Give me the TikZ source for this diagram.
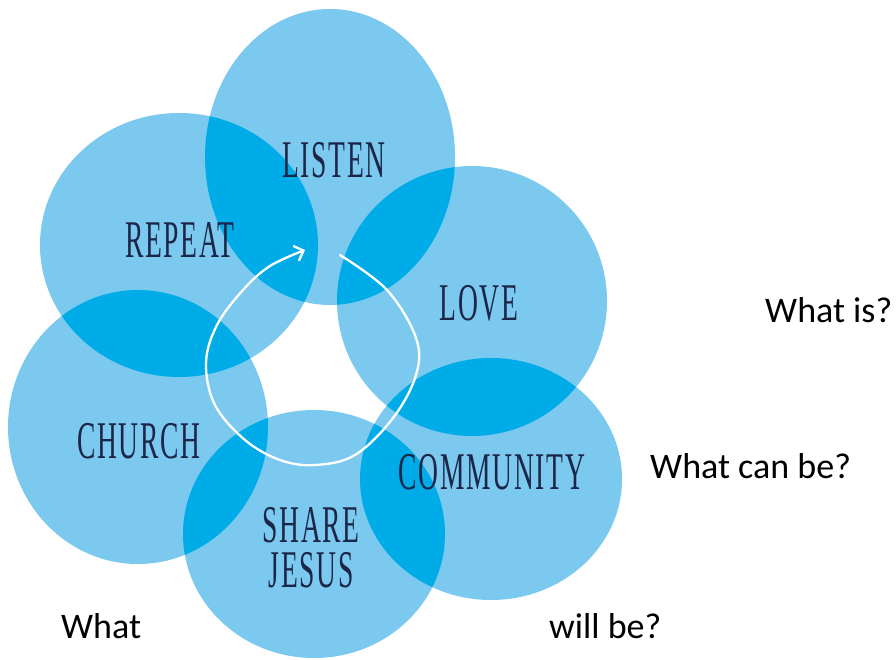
\documentclass[tikz,border=0pt]{standalone}
\usepackage{fontspec}
\setmainfont{Liberation Serif}
\newfontfamily\qfont{Carlito}
\newfontfamily\capfont[LetterSpace=6]{Liberation Serif}
\usetikzlibrary{arrows.meta}
\definecolor{blobLight}{RGB}{124,201,240}
\definecolor{blobDark}{RGB}{0,172,232}
\definecolor{labelNavy}{RGB}{28,38,72}
\newcommand\pListen{(330,157) ellipse [x radius=125, y radius=148]}
\newcommand\pRepeat{(179,245) ellipse [x radius=139, y radius=132]}
\newcommand\pLove{(472,301) ellipse [x radius=135, y radius=135]}
\newcommand\pCommunity{(491,479) ellipse [x radius=131, y radius=121]}
\newcommand\pShare{(314,534) ellipse [x radius=131, y radius=124]}
\newcommand\pChurch{(138,427) ellipse [x radius=130, y radius=137]}
\newcommand\lensfill[2]{\begin{scope}\clip #1;\fill[blobDark] #2;\end{scope}}
\newcommand\capword[1]{\scalebox{0.52}[1]{\capfont\fontsize{53}{53}\selectfont #1}}
\tikzset{
  blobtext/.style={anchor=base, inner sep=0pt, text=labelNavy},
  qtext/.style={anchor=base west, inner sep=0pt, font=\qfont\fontsize{36}{36}\selectfont, text=black},
  looparrow/.style={draw=white, line width=2.3pt, line cap=round, line join=round,
    -{Straight Barb[length=8pt,width=16pt,line width=2.3pt]}}
}
\begin{document}
\begin{tikzpicture}[x=1pt,y=-1pt]
\useasboundingbox[fill=white] (0,0) rectangle (896,660);
% blobs
\fill[blobLight] \pListen;
\fill[blobLight] \pRepeat;
\fill[blobLight] \pLove;
\fill[blobLight] \pCommunity;
\fill[blobLight] \pShare;
\fill[blobLight] \pChurch;
% overlaps
\lensfill{\pListen}{\pRepeat}
\lensfill{\pListen}{\pLove}
\lensfill{\pLove}{\pCommunity}
\lensfill{\pCommunity}{\pShare}
\lensfill{\pShare}{\pChurch}
\lensfill{\pChurch}{\pRepeat}
% loop arrow
\coordinate (loopstart) at (340,255);
\coordinate (looptip) at (305,250);
\draw[looparrow] plot[smooth, tension=0.6] coordinates {
  (340,255) (387,290) (416,338) (416,375) (393,418) (355,455) (315,465)
  (280,460) (245,440) (215,405) (206,363) (217,325) (243,290) (270,266) (305,250)};
% labels
\node[blobtext] (listen) at (334,178) {\capword{LISTEN}};
\node[blobtext] (repeat) at (180,258) {\capword{REPEAT}};
\node[blobtext] (love) at (479,320) {\capword{LOVE}};
\node[blobtext] (community) at (492,489) {\capword{COMMUNITY}};
\node[blobtext] (church) at (139,458) {\capword{CHURCH}};
\node[blobtext, align=center, font=\fontsize{53}{45}\selectfont] (sharejesus) at (311,587)
  {\capword{SHARE}\\\capword{JESUS}};
% questions
\node[qtext] (whatis) at (765,322) {What is?};
\node[qtext] (whatcan) at (650,478) {What can be?};
\node[qtext] (what) at (61,638) {What};
\node[qtext] (willbe) at (549,638) {will be?};
\end{tikzpicture}
\end{document}
